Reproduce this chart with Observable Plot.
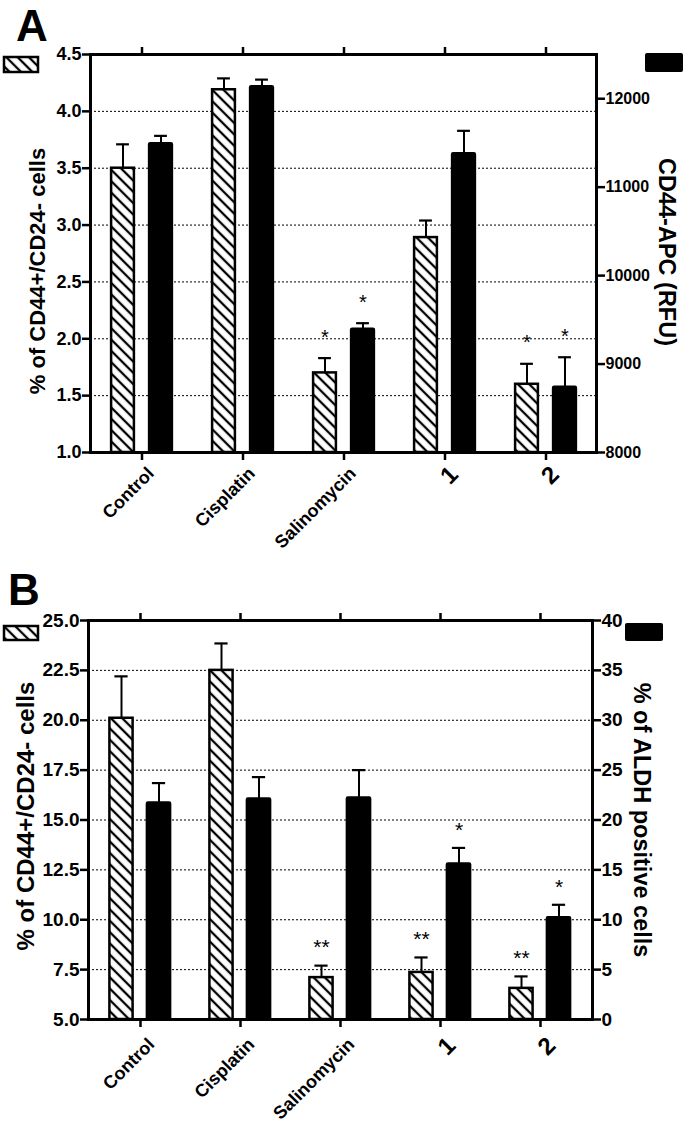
<!DOCTYPE html>
<html><head><meta charset="utf-8">
<script src="https://cdn.jsdelivr.net/npm/d3@7"></script>
<script src="https://cdn.jsdelivr.net/npm/@observablehq/plot@0.6"></script>
<style>
body{margin:0;background:#fff;}
#chart svg{display:block;}
</style></head><body><div id="chart"></div>
<script>
const categories = ["Control", "Cisplatin", "Salinomycin", "1", "2"];

// Panel A
const pctA = [3.50, 4.19, 1.70, 2.89, 1.60];
const pctSemA = [0.21, 0.10, 0.13, 0.15, 0.18];
const apcA = [11490, 12136, 9394, 11377, 8737];
const apcSemA = [90, 80, 68, 260, 340];
const starsPctA = ["", "", "*", "", "*"];
const starsApcA = ["", "", "*", "", "*"];
const leftTicksA = [1.0, 1.5, 2.0, 2.5, 3.0, 3.5, 4.0, 4.5];
const rightTicksA = [8000, 9000, 10000, 11000, 12000];

// Panel B
const pctB = [20.1, 22.5, 7.1, 7.36, 6.56];
const pctSemB = [2.1, 1.35, 0.6, 0.75, 0.6];
const aldhB = [21.7, 22.1, 22.2, 15.6, 10.2];
const aldhSemB = [2.0, 2.2, 2.8, 1.6, 1.3];
const starsPctB = ["", "", "**", "**", "**"];
const starsAldhB = ["", "", "", "*", "*"];
const leftTicksB = [5.0, 7.5, 10.0, 12.5, 15.0, 17.5, 20.0, 22.5, 25.0];
const rightTicksB = [0, 5, 10, 15, 20, 25, 30, 35, 40];

const FONT = "'Liberation Sans', Arial, Helvetica, sans-serif";

function panel(cfg) {
  const leftDomain = [cfg.leftTicks[0], cfg.leftTicks[cfg.leftTicks.length - 1]];
  const toLeft = d3.scaleLinear().domain(cfg.rightDomain).range(leftDomain);
  const L = categories.map((c, i) => ({cat: c, v: cfg.pct[i], e: cfg.pct[i] + cfg.pctSem[i], s: cfg.starsL[i]}));
  const R = categories.map((c, i) => ({cat: c, v: toLeft(cfg.right[i]), e: toLeft(cfg.right[i] + cfg.rightSem[i]), s: cfg.starsR[i]}));
  const bw = (685 - cfg.ml - cfg.mr) / categories.length;
  const barIns = (bw - cfg.barW) / 2;
  const capIns = (bw - cfg.capW) / 2;
  const y0 = leftDomain[0];
  const grid = cfg.leftTicks.slice(1, -1);
  const plot = Plot.plot({
    width: 685, height: cfg.height,
    marginLeft: cfg.ml, marginRight: cfg.mr, marginTop: cfg.mt, marginBottom: cfg.mb,
    x: {type: "band", domain: categories, padding: 0},
    y: {domain: leftDomain},
    style: {fontFamily: FONT, background: "white", overflow: "visible", color: "black"},
    marks: [
      Plot.gridY(grid, {stroke: "black", strokeOpacity: 1, strokeWidth: 1, strokeDasharray: "2,2"}),
      Plot.ruleX(L, {x: "cat", y1: "v", y2: "e", dx: cfg.offL, stroke: "black", strokeWidth: 2}),
      Plot.tickY(L, {x: "cat", y: "e", dx: cfg.offL, insetLeft: capIns, insetRight: capIns, stroke: "black", strokeWidth: 2.2}),
      Plot.ruleX(R, {x: "cat", y1: "v", y2: "e", dx: cfg.offR, stroke: "black", strokeWidth: 2}),
      Plot.tickY(R, {x: "cat", y: "e", dx: cfg.offR, insetLeft: capIns, insetRight: capIns, stroke: "black", strokeWidth: 2.2}),
      Plot.barY(L, {x: "cat", y1: () => y0, y2: "v", dx: cfg.offL, insetLeft: barIns, insetRight: barIns,
        fill: `url(#${cfg.hatchId})`, stroke: "black", strokeWidth: 2.5}),
      Plot.barY(R, {x: "cat", y1: () => y0, y2: "v", dx: cfg.offR, insetLeft: barIns, insetRight: barIns,
        fill: "black", stroke: "black", strokeWidth: 2.5, rx: 1}),
      Plot.text(L, {filter: d => d.s, x: "cat", y: "e", text: "s", dx: cfg.offL, dy: cfg.starDy, fontSize: cfg.starFs, lineAnchor: "middle", fill: "black"}),
      Plot.text(R, {filter: d => d.s, x: "cat", y: "e", text: "s", dx: cfg.offR, dy: cfg.starDy, fontSize: cfg.starFs, lineAnchor: "middle", fill: "black"}),
      Plot.frame({stroke: "black", strokeWidth: 3}),
      Plot.axisX({anchor: "top", tickSize: 8, tickFormat: () => "", strokeWidth: 2.5, label: null}),
      Plot.axisX({anchor: "bottom", tickSize: 8, tickFormat: () => "", strokeWidth: 2.5, label: null}),
      Plot.text(categories, {x: d => d, text: d => d, frameAnchor: "bottom", rotate: -45, textAnchor: "end", lineAnchor: "middle",
        dx: cfg.xlDx, dy: cfg.xlDy, fontSize: d => d.length === 1 ? 24 : 18, fontWeight: "bold", fill: "black"}),
      Plot.axisY(cfg.leftTicks, {anchor: "left", tickSize: 8, tickPadding: 1, tickFormat: d3.format(".1f"),
        fontSize: cfg.leftFs, fontWeight: "bold", strokeWidth: 2.5, label: null}),
      Plot.axisY(cfg.rightTicks.map(toLeft), {anchor: "right", tickSize: 8, tickPadding: 1,
        tickFormat: d => String(Math.round(toLeft.invert(d))),
        fontSize: cfg.rightFs, fontWeight: "bold", strokeWidth: 2.5, label: null})
    ]
  });
  const svg = d3.select(plot);
  const defs = svg.insert("defs", ":first-child");
  const pat = defs.append("pattern").attr("id", cfg.hatchId).attr("patternUnits", "userSpaceOnUse")
    .attr("width", 8).attr("height", 8).attr("patternTransform", "rotate(-45)");
  pat.append("rect").attr("width", 8).attr("height", 8).attr("fill", "white");
  pat.append("line").attr("x1", 4).attr("y1", -1).attr("x2", 4).attr("y2", 9).attr("stroke", "black").attr("stroke-width", 2.3);

  const g = svg.append("g").attr("font-family", FONT).attr("font-weight", "bold").attr("fill", "black");
  g.append("text").attr("x", cfg.letter.x).attr("y", cfg.letter.y).attr("font-size", 44).text(cfg.letter.t);
  const lh = cfg.legH, lb = cfg.legB;
  g.append("rect").attr("x", lh.x).attr("y", lh.y).attr("width", lh.w).attr("height", lh.h)
    .attr("fill", `url(#${cfg.hatchId})`).attr("stroke", "black").attr("stroke-width", 2.5);
  g.append("rect").attr("x", lb.x).attr("y", lb.y).attr("width", lb.w).attr("height", lb.h).attr("rx", 2)
    .attr("fill", "black");
  const yl = cfg.yLabelL, yr = cfg.yLabelR;
  g.append("text").attr("transform", `translate(${yl.x},${yl.y}) rotate(-90)`).attr("text-anchor", "middle")
    .attr("dominant-baseline", "central").attr("font-size", yl.fs).text(yl.t);
  g.append("text").attr("transform", `translate(${yr.x},${yr.y}) rotate(90)`).attr("text-anchor", "middle")
    .attr("dominant-baseline", "central").attr("font-size", yr.fs).text(yr.t);
  return plot;
}

const chart = document.getElementById("chart");
chart.appendChild(panel({
  height: 560, ml: 90, mr: 89, mt: 54, mb: 108,
  leftTicks: leftTicksA, rightTicks: rightTicksA, rightDomain: [8000, 12500],
  pct: pctA, pctSem: pctSemA, right: apcA, rightSem: apcSemA, starsL: starsPctA, starsR: starsApcA,
  hatchId: "hatchA", offL: -19, offR: 19, barW: 23, capW: 13, starDy: -21, starFs: 20,
  xlDx: 9, xlDy: 18, leftFs: 18, rightFs: 16,
  letter: {x: 32, y: 41, t: "A"},
  legH: {x: 4, y: 57, w: 34, h: 15}, legB: {x: 645, y: 53, w: 38, h: 19},
  yLabelL: {x: 37, y: 271, fs: 22, t: "% of CD44+/CD24- cells"},
  yLabelR: {x: 667, y: 252, fs: 23.5, t: "CD44-APC (RFU)"}
}));
chart.appendChild(panel({
  height: 570, ml: 88, mr: 93, mt: 60, mb: 111,
  leftTicks: leftTicksB, rightTicks: rightTicksB, rightDomain: [0, 40],
  pct: pctB, pctSem: pctSemB, right: aldhB, rightSem: aldhSemB, starsL: starsPctB, starsR: starsAldhB,
  hatchId: "hatchB", offL: -19, offR: 18.5, barW: 24, capW: 14, starDy: -18, starFs: 21,
  xlDx: 11, xlDy: 22, leftFs: 19, rightFs: 19,
  letter: {x: 24, y: 45, t: "B"},
  legH: {x: 4, y: 66, w: 34, h: 14}, legB: {x: 625, y: 63, w: 38, h: 18},
  yLabelL: {x: 25, y: 256, fs: 24, t: "% of CD44+/CD24- cells"},
  yLabelR: {x: 642, y: 260, fs: 23.5, t: "% of ALDH positive cells"}
}));
</script></body></html>
